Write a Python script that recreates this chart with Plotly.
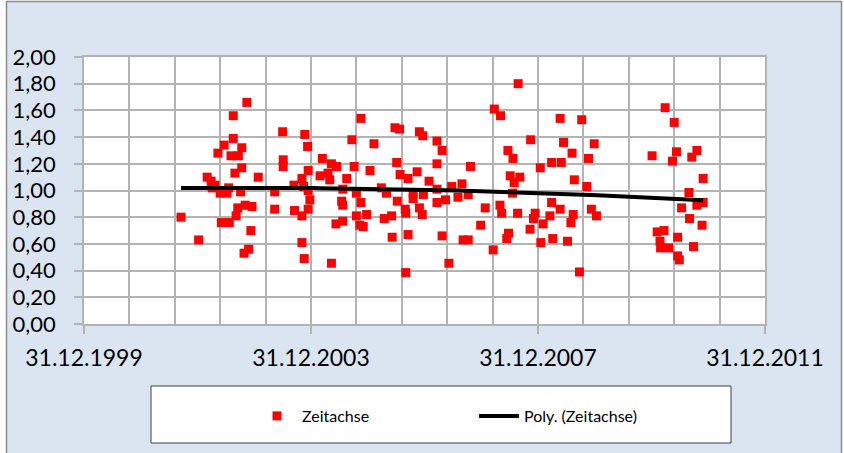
import numpy as np
import pandas as pd
import plotly.graph_objects as go

# decimal years (time axis) and values
years = [
    2001.71, 2002.02, 2002.17, 2002.24, 2002.26, 2002.31, 2002.36, 2002.40, 2002.42, 2002.47,
    2002.52, 2002.55, 2002.56, 2002.59, 2002.63, 2002.63, 2002.66, 2002.68, 2002.71, 2002.72,
    2002.76, 2002.78, 2002.78, 2002.82, 2002.84, 2002.87, 2002.90, 2002.94, 2002.96, 2003.07,
    2003.36, 2003.36, 2003.50, 2003.51, 2003.51, 2003.70, 2003.71, 2003.84, 2003.84, 2003.84,
    2003.87, 2003.88, 2003.89, 2003.94, 2003.95, 2003.95, 2003.95, 2003.98,
    2004.16, 2004.20, 2004.30, 2004.33, 2004.36, 2004.36, 2004.44, 2004.45, 2004.54, 2004.56,
    2004.56, 2004.56, 2004.63, 2004.72, 2004.76, 2004.80, 2004.80, 2004.86, 2004.88, 2004.88,
    2004.92, 2004.98, 2005.04, 2005.11, 2005.24, 2005.29, 2005.33, 2005.42, 2005.43, 2005.48,
    2005.51, 2005.52, 2005.56, 2005.57,
    2005.66, 2005.67, 2005.67, 2005.71, 2005.71, 2005.80, 2005.80, 2005.87, 2005.91, 2005.91,
    2005.96, 2005.97, 2005.98, 2006.08, 2006.22, 2006.22, 2006.22, 2006.22, 2006.31, 2006.31,
    2006.37, 2006.43, 2006.48, 2006.59, 2006.66, 2006.68, 2006.77, 2006.77, 2006.81,
    2006.99, 2007.07, 2007.21, 2007.23, 2007.33, 2007.34, 2007.36, 2007.45, 2007.48, 2007.47,
    2007.51, 2007.55, 2007.56, 2007.58, 2007.64, 2007.65, 2007.68, 2007.86, 2007.87, 2007.92,
    2007.95, 2008.04, 2008.05, 2008.09, 2008.21, 2008.24, 2008.24, 2008.26, 2008.39, 2008.39,
    2008.41, 2008.45, 2008.52, 2008.58, 2008.60, 2008.62, 2008.64, 2008.73, 2008.77, 2008.86,
    2008.89, 2008.94, 2008.99, 2009.03,
    2010.01, 2010.10, 2010.15, 2010.16, 2010.22, 2010.24, 2010.30, 2010.37, 2010.40, 2010.44,
    2010.46, 2010.46, 2010.49, 2010.53, 2010.66, 2010.67, 2010.71, 2010.74, 2010.80, 2010.80,
    2010.89, 2010.91, 2010.91,
]
values = [
    0.80, 0.63, 1.10, 1.07, 1.02, 1.04, 1.28, 0.98, 0.76, 1.34,
    0.98, 1.02, 0.76, 1.26, 1.39, 1.56, 1.13, 0.81, 0.87, 1.26,
    0.99, 1.17, 1.32, 0.53, 0.89, 1.66, 0.56, 0.70, 0.88, 1.10,
    0.99, 0.86, 1.44, 1.23, 1.18, 1.04, 0.85, 1.09, 0.81, 0.61,
    1.03, 0.49, 1.42, 1.33, 1.15, 1.00, 0.86, 0.93,
    1.11, 1.24, 1.13, 1.08, 1.20, 0.455, 0.75, 1.18, 0.92, 0.89,
    1.01, 0.77, 1.09, 1.38, 1.18, 0.98, 0.81, 0.74, 1.54, 0.91,
    0.73, 0.82, 1.15, 1.35, 1.02, 0.79, 0.98, 0.81, 0.65, 1.47,
    1.21, 0.92, 1.46, 1.12,
    0.86, 0.83, 0.385, 1.09, 0.67, 0.98, 0.94, 1.14, 1.44, 0.87,
    0.82, 1.41, 0.97, 1.07, 1.37, 1.20, 1.01, 0.91, 1.30, 0.66,
    0.93, 0.455, 1.03, 0.95, 1.05, 0.63, 0.97, 0.63, 1.18,
    0.74, 0.87, 0.555, 1.61, 0.89, 1.56, 0.83, 0.64, 0.68, 1.30,
    1.11, 0.98, 1.24, 1.06, 0.83, 1.80, 1.10, 0.71, 1.38, 0.79,
    0.83, 1.17, 0.61, 0.75, 0.81, 0.91, 1.21, 0.64, 1.54, 0.86,
    1.21, 1.36, 0.62, 0.76, 1.28, 0.82, 1.08, 0.39, 1.53, 1.03,
    1.24, 0.86, 1.35, 0.81,
    1.26, 0.69, 0.62, 0.57, 0.70, 1.62, 0.57, 1.22, 1.51, 1.29,
    0.65, 0.51, 0.48, 0.87, 0.985, 0.79, 1.25, 0.58, 1.30, 0.89,
    0.74, 1.09, 0.91,
]
x_tick_dates = ["1999-12-31", "2003-12-31", "2007-12-31", "2011-12-31"]
x_tick_labels = ["31.12.1999", "31.12.2003", "31.12.2007", "31.12.2011"]
series_name = "Zeitachse"
trend_name = "Poly. (Zeitachse)"

base = pd.Timestamp("1999-12-31")
yrs = np.array(years)
dates = base + pd.to_timedelta((yrs - 2000.0) * 365.25, unit="D")

# 2nd-order polynomial trendline (as in the spreadsheet "Poly." trendline)
coef = np.polyfit(yrs, np.array(values), 2)
t_yrs = np.linspace(yrs.min(), yrs.max(), 80)
t_vals = np.polyval(coef, t_yrs)
t_dates = base + pd.to_timedelta((t_yrs - 2000.0) * 365.25, unit="D")

grid = "#b3b3b3"
fig = go.Figure()
fig.add_trace(go.Scatter(
    x=dates, y=values, mode="markers", name=series_name,
    marker=dict(symbol="square", size=9, color="#ff0000", line=dict(width=0)),
))
fig.add_trace(go.Scatter(
    x=t_dates, y=t_vals, mode="lines", name=trend_name,
    line=dict(color="#000000", width=4),
))

# minor grid: each 4-year major unit split in 5
start = pd.Timestamp(x_tick_dates[0])
end = pd.Timestamp(x_tick_dates[-1])
span = (end - start) / 15
minor_vals = [start + span * k for k in range(1, 15)]

W, H = 844, 453
L, R, T, B = 84, 79, 57, 129
pw, ph = W - L - R, H - T - B

def px(xp):
    return (xp - L) / pw

def py(yp):
    return (H - B - yp) / ph

fig.update_layout(
    width=W, height=H,
    margin=dict(l=L, r=R, t=T, b=B),
    paper_bgcolor="#ffffff",
    plot_bgcolor="#ffffff",
    separators=",.",
    font=dict(family="Lato, Open Sans, sans-serif", color="#000000"),
    showlegend=True,
    legend=dict(
        orientation="h", x=px(252), y=py(416), xanchor="left", yanchor="middle",
        bgcolor="rgba(0,0,0,0)", borderwidth=0,
        font=dict(size=16, family="Lato, sans-serif"),
        entrywidth=167, entrywidthmode="pixels",
        itemwidth=40,
    ),
    shapes=[
        dict(type="rect", xref="paper", yref="paper",
             x0=px(6.5), x1=px(841.5), y0=py(470), y1=py(1.5),
             line=dict(color="#8c8c8c", width=1.5), fillcolor="#dbe5f1", layer="below"),
        dict(type="rect", xref="paper", yref="paper",
             x0=0, x1=1, y0=0, y1=1,
             line=dict(width=0), fillcolor="#ffffff", layer="below"),
        dict(type="rect", xref="paper", yref="paper",
             x0=px(151), x1=px(731), y0=py(443), y1=py(386),
             line=dict(color="#404040", width=1), fillcolor="#ffffff", layer="below"),
    ],
)
fig.update_xaxes(
    type="date", range=[x_tick_dates[0], x_tick_dates[-1]],
    tickvals=x_tick_dates, ticktext=x_tick_labels,
    ticks="outside", ticklen=8, tickcolor=grid, tickwidth=1.5,
    showgrid=True, gridcolor=grid, gridwidth=1.5,
    minor=dict(tickvals=minor_vals, showgrid=True, gridcolor=grid, gridwidth=1.5, ticks=""),
    showline=True, linecolor=grid, linewidth=1.5, mirror=True,
    tickfont=dict(size=23), ticklabelstandoff=5,
    zeroline=False,
)
fig.update_yaxes(
    range=[0, 2], dtick=0.2, tick0=0, tickformat=".2f",
    ticks="outside", ticklen=8, tickcolor=grid, tickwidth=1.5,
    showgrid=True, gridcolor=grid, gridwidth=1.5,
    showline=True, linecolor=grid, linewidth=1.5, mirror=True,
    tickfont=dict(size=22), ticklabelstandoff=14,
    zeroline=False,
)
fig.write_html("out.html", config={"displayModeBar": False},
               post_script="document.body.style.margin='0';")
